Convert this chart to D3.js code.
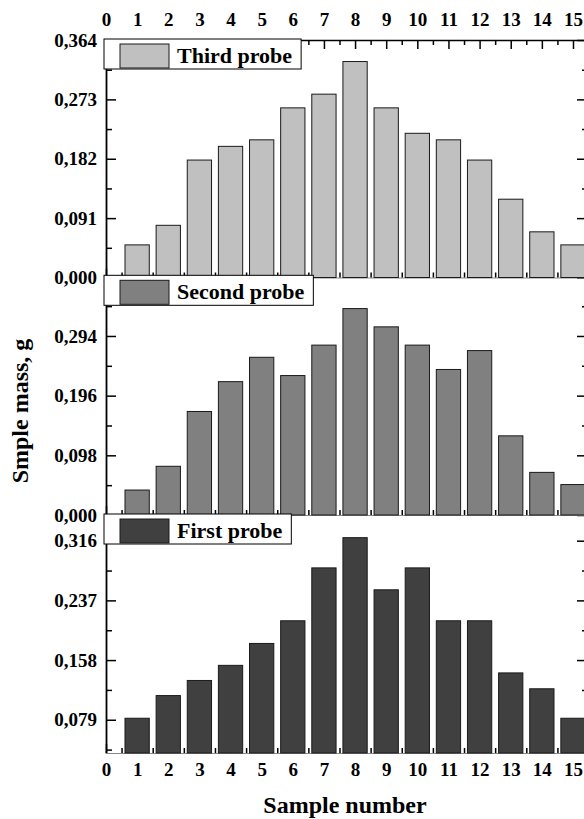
<!DOCTYPE html>
<html>
<head>
<meta charset="utf-8">
<script src="https://cdn.jsdelivr.net/npm/d3@7"></script>
<style>
  body { margin: 0; background: #fff; }
  text { font-family: "Liberation Serif", "Times New Roman", serif; font-weight: bold; }
</style>
</head>
<body>
<div class="center"></div>
<script>
const w = 584;
const h = 819;

const samples = [1, 2, 3, 4, 5, 6, 7, 8, 9, 10, 11, 12, 13, 14, 15];
const thirdProbe  = [0.050, 0.080, 0.180, 0.201, 0.211, 0.260, 0.281, 0.331, 0.260, 0.221, 0.211, 0.180, 0.120, 0.070, 0.050];
const secondProbe = [0.041, 0.080, 0.170, 0.219, 0.259, 0.229, 0.279, 0.339, 0.309, 0.279, 0.239, 0.270, 0.130, 0.070, 0.050];
const firstProbe  = [0.081, 0.111, 0.131, 0.151, 0.180, 0.210, 0.280, 0.320, 0.251, 0.280, 0.210, 0.210, 0.141, 0.120, 0.081];

const xTicks = [0, 1, 2, 3, 4, 5, 6, 7, 8, 9, 10, 11, 12, 13, 14, 15];
const thirdTicks  = [0, 0.091, 0.182, 0.273, 0.364];
const secondTicks = [0, 0.098, 0.196, 0.294];
const firstTicks  = [0.079, 0.158, 0.237, 0.316];

const locale = d3.formatLocale({decimal: ",", thousands: " ", grouping: [3], currency: ["", ""]});
const fmt = locale.format(".3f");

const svg = d3.select(".center")
    .append("svg")
    .attr("width", w)
    .attr("height", h);

const left = 106, right = 587;
const xScale = d3.scaleLinear().domain([0, 15.45]).range([left, right]);
const bw = 0.78 * (xScale(1) - xScale(0));
const halfTicks = xTicks.slice(0, -1).map(d => d + 0.5);

// one object per panel, top to bottom
const panels = [
    {name: "Third probe",  data: thirdProbe,  ticks: thirdTicks,  domain: [0, 0.364],     range: [277.5, 40],  fill: "#c0c0c0", top: true},
    {name: "Second probe", data: secondProbe, ticks: secondTicks, domain: [0, 0.392],     range: [515, 276.3], fill: "#808080"},
    {name: "First probe",  data: firstProbe,  ticks: firstTicks,  domain: [0.035, 0.350], range: [753, 515],   fill: "#404040", bottom: true}
];

panels.forEach(p => {
    const yScale = d3.scaleLinear().domain(p.domain).range(p.range);
    const g = svg.append("g");
    const step = p.ticks[1] - p.ticks[0];
    const minor = p.ticks.map(d => d + step / 2).filter(d => d > p.domain[0] && d < p.domain[1]);
    if (p.ticks[0] - step / 2 > p.domain[0]) minor.push(p.ticks[0] - step / 2);

    // left axis
    g.append("g")
        .attr("transform", `translate(${left},0)`)
        .call(d3.axisLeft(yScale).tickValues(p.ticks).tickFormat(fmt).tickSizeInner(-10).tickSizeOuter(0).tickPadding(9))
        .call(a => a.select(".domain").attr("stroke-width", 1.8))
        .call(a => a.selectAll(".tick line").attr("stroke-width", 1.5))
        .call(a => a.selectAll("text").attr("font-size", 19).attr("font-family", null).attr("fill", "#000"));
    g.append("g")
        .attr("transform", `translate(${left},0)`)
        .call(d3.axisLeft(yScale).tickValues(minor).tickFormat("").tickSizeInner(-6).tickSizeOuter(0))
        .call(a => a.select(".domain").remove())
        .call(a => a.selectAll(".tick line").attr("stroke-width", 1.5));

    // right axis
    g.append("g")
        .attr("transform", `translate(${right},0)`)
        .call(d3.axisRight(yScale).tickValues(p.ticks).tickFormat("").tickSizeInner(-10).tickSizeOuter(0))
        .call(a => a.select(".domain").attr("stroke-width", 1.5))
        .call(a => a.selectAll(".tick line").attr("stroke-width", 1.5));
    g.append("g")
        .attr("transform", `translate(${right},0)`)
        .call(d3.axisRight(yScale).tickValues(minor).tickFormat("").tickSizeInner(-5).tickSizeOuter(0))
        .call(a => a.select(".domain").remove())
        .call(a => a.selectAll(".tick line").attr("stroke-width", 1.5));

    // bottom axis of the panel (ticks inward)
    const by = p.range[0];
    g.append("g")
        .attr("transform", `translate(0,${by})`)
        .call(d3.axisBottom(xScale).tickValues(xTicks).tickFormat(p.bottom ? d => d : "").tickSizeInner(-9).tickSizeOuter(0).tickPadding(10))
        .call(a => a.select(".domain").attr("stroke", "#888").attr("stroke-width", 1))
        .call(a => a.selectAll(".tick line").attr("stroke-width", 1.5))
        .call(a => a.selectAll("text").attr("font-size", 19).attr("font-family", null).attr("fill", "#000"));
    g.append("g")
        .attr("transform", `translate(0,${by})`)
        .call(d3.axisBottom(xScale).tickValues(halfTicks).tickFormat("").tickSizeInner(-5).tickSizeOuter(0))
        .call(a => a.select(".domain").remove())
        .call(a => a.selectAll(".tick line").attr("stroke-width", 1.5));

    if (p.top) {
        const ty = p.range[1];
        g.append("g")
            .attr("transform", `translate(0,${ty})`)
            .call(d3.axisTop(xScale).tickValues(xTicks).tickFormat(d => d).tickSizeInner(-9).tickSizeOuter(0).tickPadding(14))
            .call(a => a.select(".domain").attr("stroke-width", 1.5))
            .call(a => a.selectAll(".tick line").attr("stroke-width", 1.5))
            .call(a => a.selectAll("text").attr("font-size", 19).attr("font-family", null).attr("fill", "#000"));
        g.append("g")
            .attr("transform", `translate(0,${ty})`)
            .call(d3.axisTop(xScale).tickValues(halfTicks).tickFormat("").tickSizeInner(-5).tickSizeOuter(0))
            .call(a => a.select(".domain").remove())
            .call(a => a.selectAll(".tick line").attr("stroke-width", 1.5));
    }

    // bars
    g.selectAll("rect.bar")
        .data(p.data)
        .enter()
        .append("rect")
        .attr("class", "bar")
        .attr("x", (d, i) => xScale(samples[i]) - bw / 2)
        .attr("y", d => yScale(d))
        .attr("width", bw)
        .attr("height", d => by - yScale(d))
        .attr("fill", p.fill)
        .attr("stroke", "#1a1a1a")
        .attr("stroke-width", 1);

    // legend box
    const ly = p.range[1] - 1;
    const lg = svg.append("g");
    const box = lg.append("rect")
        .attr("x", 104)
        .attr("y", ly)
        .attr("height", 30)
        .attr("fill", "#fff")
        .attr("stroke", "#000")
        .attr("stroke-width", 1);
    lg.append("rect")
        .attr("x", 120)
        .attr("y", ly + 5)
        .attr("width", 49)
        .attr("height", 24)
        .attr("fill", p.fill)
        .attr("stroke", "#1a1a1a")
        .attr("stroke-width", 1);
    const t = lg.append("text")
        .attr("x", 177)
        .attr("y", ly + 24)
        .attr("font-size", 22)
        .text(p.name);
    box.attr("width", 177 + t.node().getComputedTextLength() + 9 - 104);
});

svg.append("text")
    .attr("transform", "translate(28,411) rotate(-90)")
    .attr("text-anchor", "middle")
    .attr("font-size", 24)
    .text("Smple mass, g");

svg.append("text")
    .attr("x", 345)
    .attr("y", 813)
    .attr("text-anchor", "middle")
    .attr("font-size", 24)
    .text("Sample number");
</script>
</body>
</html>
